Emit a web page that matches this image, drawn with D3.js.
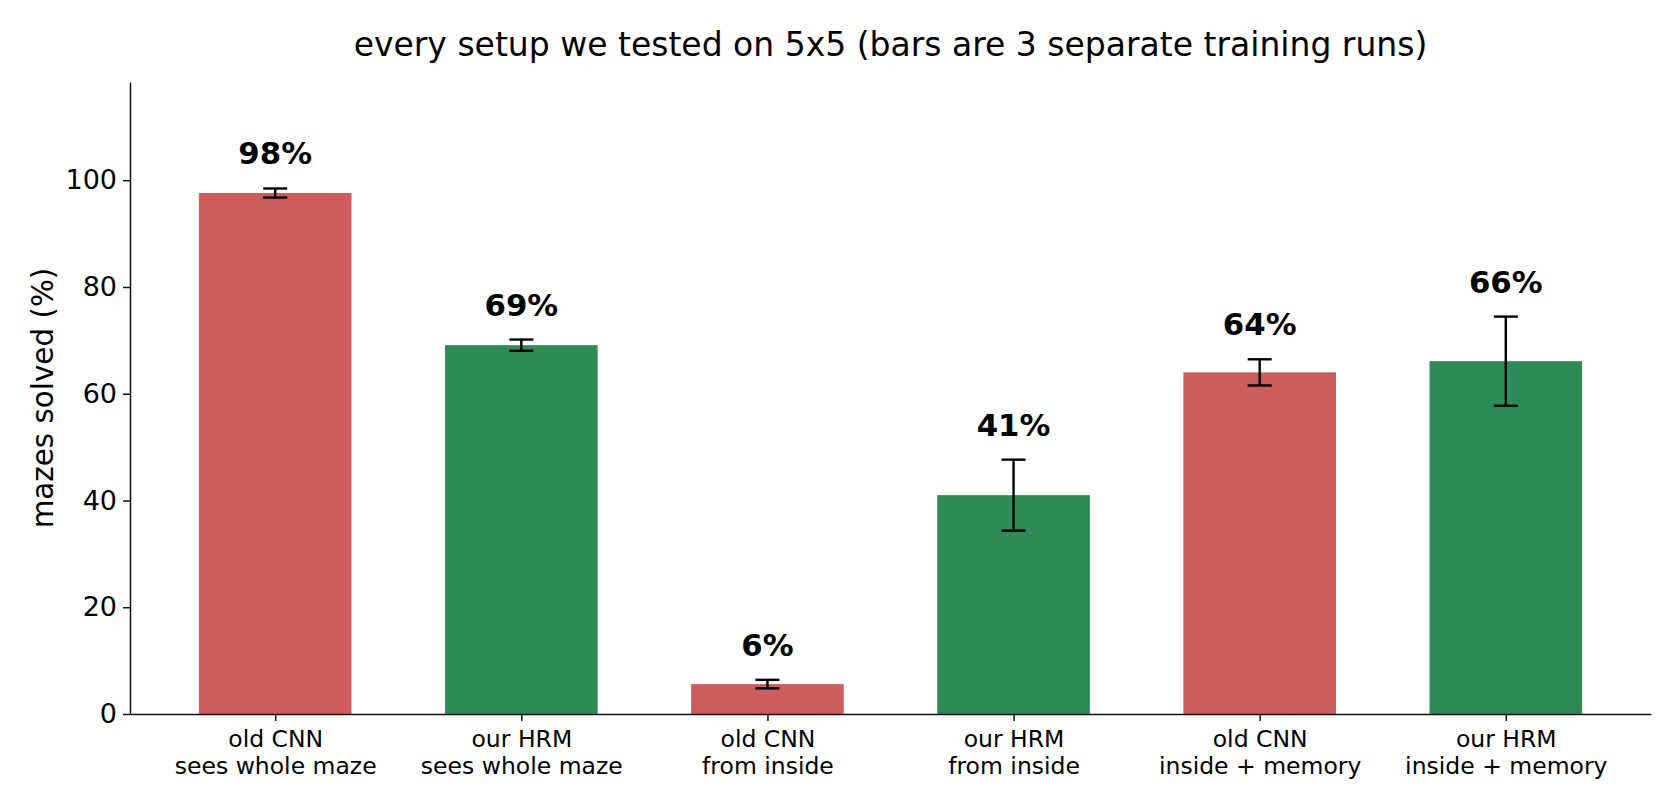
<!DOCTYPE html>
<html>
<head>
<meta charset="utf-8">
<script src="https://cdn.jsdelivr.net/npm/d3@7"></script>
<style>
  html, body { margin: 0; padding: 0; background: #fff; }
  svg { display: block; font-family: "DejaVu Sans", sans-serif; }
</style>
</head>
<body>
<div id="chart"></div>
<script>
// Data
const setups = [
    ['old CNN', 'sees whole maze'],
    ['our HRM', 'sees whole maze'],
    ['old CNN', 'from inside'],
    ['our HRM', 'from inside'],
    ['old CNN', 'inside + memory'],
    ['our HRM', 'inside + memory']
];
const solved = [97.6, 69.1, 5.6, 41.0, 64.0, 66.1];
const spread = [0.85, 1.05, 0.8, 6.65, 2.45, 8.35];
const model = ['cnn', 'hrm', 'cnn', 'hrm', 'cnn', 'hrm'];
const yTicks = [0, 20, 40, 60, 80, 100];

const colors = { cnn: '#CD5C5C', hrm: '#2E8B57' };

const width = 1680;
const height = 812;
const margin = { top: 82, right: 29, bottom: 98, left: 130 };

const svg = d3.select('#chart')
    .append('svg')
    .attr('width', width)
    .attr('height', height);

// Scales - bar index on x like matplotlib, with its margins
const x = d3.scaleLinear()
    .domain([-0.59, setups.length - 1 + 0.59])
    .range([margin.left, width - margin.right]);

const y = d3.scaleLinear()
    .domain([0, 118.4])
    .range([height - margin.bottom, margin.top]);

const barW = x(0.62) - x(0);

// Bars
svg.append('g')
    .selectAll('rect')
    .data(solved)
    .enter()
    .append('rect')
    .attr('x', (d, i) => x(i) - barW / 2)
    .attr('y', d => y(d))
    .attr('width', barW)
    .attr('height', d => y(0) - y(d))
    .attr('fill', (d, i) => colors[model[i]]);

// Error bars
const err = svg.append('g')
    .attr('stroke', '#000')
    .attr('stroke-width', 2.4);

solved.forEach((v, i) => {
    const cx = x(i);
    err.append('line')
        .attr('x1', cx).attr('x2', cx)
        .attr('y1', y(v + spread[i])).attr('y2', y(v - spread[i]));
    [v + spread[i], v - spread[i]].forEach(e => {
        err.append('line')
            .attr('x1', cx - 12).attr('x2', cx + 12)
            .attr('y1', y(e)).attr('y2', y(e));
    });
});

// Value labels above the error bars
svg.append('g')
    .selectAll('text')
    .data(solved)
    .enter()
    .append('text')
    .attr('x', (d, i) => x(i))
    .attr('y', (d, i) => y(d + spread[i]) - 24)
    .attr('text-anchor', 'middle')
    .style('font-size', '30.8px')
    .style('font-weight', 'bold')
    .style('fill', '#000')
    .text(d => Math.round(d) + '%');

// Y axis
const yAxis = svg.append('g')
    .attr('transform', `translate(${margin.left},0)`)
    .call(d3.axisLeft(y).tickValues(yTicks).tickSize(7).tickPadding(6).tickSizeOuter(0));

yAxis.select('.domain').attr('stroke', '#111').attr('stroke-width', 1.5);
yAxis.selectAll('.tick line').attr('stroke', '#111').attr('stroke-width', 1.5);
yAxis.selectAll('.tick text')
    .style('font-size', '27px')
    .style('font-family', '"DejaVu Sans", sans-serif')
    .attr('fill', '#000');

// X axis with two-line category labels
const xAxis = svg.append('g')
    .attr('transform', `translate(0,${y(0)})`)
    .call(d3.axisBottom(x).tickValues(d3.range(setups.length)).tickSize(7).tickSizeOuter(0).tickFormat(''));

xAxis.select('.domain').attr('stroke', '#111').attr('stroke-width', 1.5);
xAxis.selectAll('.tick line').attr('stroke', '#111').attr('stroke-width', 1.5);

xAxis.selectAll('.tick').each(function(d) {
    const t = d3.select(this).append('text')
        .attr('text-anchor', 'middle')
        .attr('fill', '#000')
        .style('font-size', '23.5px')
        .style('font-family', '"DejaVu Sans", sans-serif');
    setups[d].forEach((line, k) => {
        t.append('tspan')
            .attr('x', 0)
            .attr('y', 33 + k * 27)
            .text(line);
    });
});

// Y label
svg.append('text')
    .attr('transform', `translate(43,${(margin.top + height - margin.bottom) / 2}) rotate(-90)`)
    .attr('text-anchor', 'middle')
    .attr('dy', '0.35em')
    .style('font-size', '29.4px')
    .style('fill', '#000')
    .text('mazes solved (%)');

// Title
svg.append('text')
    .attr('x', (margin.left + width - margin.right) / 2)
    .attr('y', 56)
    .attr('text-anchor', 'middle')
    .style('font-size', '33px')
    .style('fill', '#000')
    .text('every setup we tested on 5x5 (bars are 3 separate training runs)');
</script>
</body>
</html>
